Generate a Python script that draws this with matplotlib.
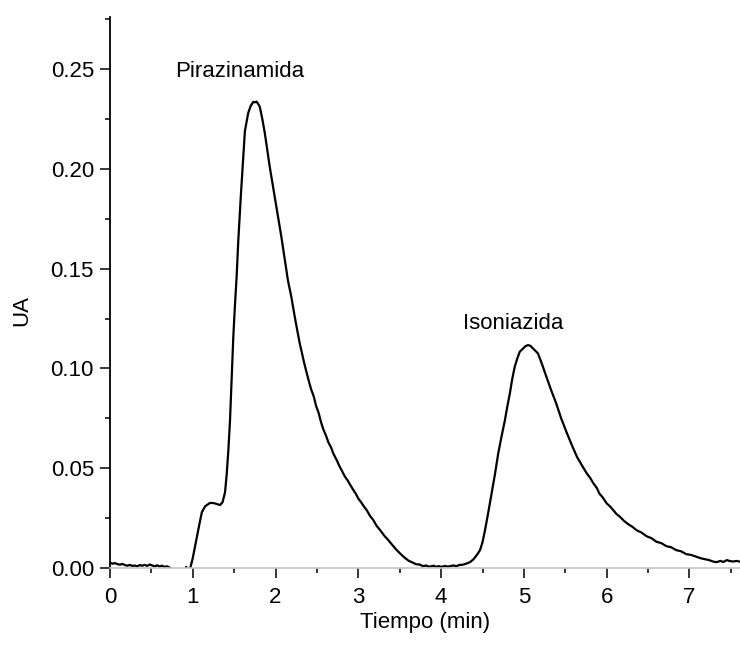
import matplotlib
matplotlib.use("Agg")
import matplotlib.pyplot as plt
from matplotlib.ticker import MultipleLocator

plt.rcParams['font.family'] = ['Liberation Sans', 'DejaVu Sans']

# Chromatogram trace (time in min, absorbance in UA)
tiempo = [
    0.00, 0.03, 0.06, 0.09, 0.12, 0.15, 0.18, 0.21, 0.24, 0.27, 0.30, 0.33,
    0.36, 0.39, 0.42, 0.45, 0.48, 0.51, 0.54, 0.57, 0.60, 0.63, 0.66, 0.69,
    0.72, 0.75, 0.78, 0.82, 0.86, 0.90, 0.92, 0.94, 0.97,
    1.00, 1.05, 1.08, 1.11, 1.15, 1.21, 1.26, 1.30, 1.33, 1.36, 1.39, 1.41,
    1.43, 1.45, 1.47, 1.49, 1.51, 1.53, 1.55, 1.58, 1.61, 1.63, 1.67, 1.70,
    1.73, 1.75, 1.77, 1.79, 1.81, 1.84, 1.87, 1.90, 1.93, 1.97, 2.01, 2.04,
    2.07, 2.11, 2.15, 2.19, 2.24, 2.29, 2.35, 2.40, 2.43, 2.46, 2.49, 2.52,
    2.55, 2.58, 2.61, 2.64, 2.67, 2.70, 2.74, 2.77, 2.80, 2.84, 2.87, 2.90,
    2.94, 2.97, 3.00, 3.03, 3.07, 3.10, 3.14, 3.18, 3.22, 3.26, 3.31, 3.36,
    3.41, 3.46, 3.51, 3.56, 3.61, 3.66, 3.70, 3.74, 3.78, 3.82, 3.85, 3.88,
    3.91, 3.94, 3.97, 4.00, 4.03, 4.05, 4.08, 4.10, 4.13, 4.15, 4.18, 4.20,
    4.23, 4.25, 4.28, 4.30, 4.33, 4.35, 4.39, 4.43, 4.47, 4.50, 4.53, 4.57,
    4.61, 4.65, 4.69, 4.73, 4.77, 4.80, 4.83, 4.86, 4.89, 4.92, 4.95, 4.99,
    5.02, 5.05, 5.08, 5.11, 5.14, 5.17, 5.22, 5.27, 5.33, 5.39, 5.45, 5.52,
    5.58, 5.64, 5.70, 5.76, 5.80, 5.84, 5.88, 5.91, 5.95, 6.00, 6.04, 6.08,
    6.12, 6.16, 6.21, 6.26, 6.31, 6.36, 6.42, 6.48, 6.54, 6.60, 6.66, 6.72,
    6.78, 6.84, 6.90, 6.96, 7.02, 7.08, 7.13, 7.18, 7.23, 7.29, 7.33, 7.37,
    7.41, 7.45, 7.49, 7.53, 7.57, 7.61,
]
absorbancia = [
    0.0028, 0.0022, 0.0025, 0.0020, 0.0017, 0.0021, 0.0015, 0.0012, 0.0016, 0.0011, 0.0013, 0.0009,
    0.0015, 0.0012, 0.0016, 0.0011, 0.0018, 0.0013, 0.0009, 0.0014, 0.0008, 0.0012, 0.0006, 0.0009,
    0.0003, -0.0008, -0.0015, -0.0020, -0.0018, -0.0010, 0.0006, -0.0004, 0.0000,
    0.0050, 0.0157, 0.0220, 0.0280, 0.0310, 0.0327, 0.0325, 0.0320, 0.0316, 0.0330, 0.0380, 0.0470,
    0.0590, 0.0740, 0.0950, 0.1160, 0.1320, 0.1460, 0.1640, 0.1860, 0.2060, 0.2190, 0.2280, 0.2315,
    0.2335, 0.2333, 0.2337, 0.2325, 0.2310, 0.2250, 0.2180, 0.2095, 0.2010, 0.1910, 0.1810, 0.1735,
    0.1660, 0.1550, 0.1440, 0.1360, 0.1240, 0.1130, 0.1020, 0.0940, 0.0895, 0.0862, 0.0812, 0.0778,
    0.0730, 0.0692, 0.0663, 0.0628, 0.0605, 0.0572, 0.0540, 0.0512, 0.0488, 0.0457, 0.0440, 0.0418,
    0.0391, 0.0372, 0.0348, 0.0332, 0.0307, 0.0291, 0.0262, 0.0241, 0.0212, 0.0192, 0.0164, 0.0141,
    0.0116, 0.0092, 0.0071, 0.0052, 0.0036, 0.0027, 0.0019, 0.0018, 0.0010, 0.0013, 0.0007, 0.0009,
    0.0012, 0.0006, 0.0010, 0.0006, 0.0009, 0.0011, 0.0007, 0.0009, 0.0012, 0.0013, 0.0010, 0.0012,
    0.0017, 0.0016, 0.0019, 0.0022, 0.0026, 0.0030, 0.0044, 0.0065, 0.0090, 0.0130, 0.0190, 0.0280,
    0.0374, 0.0470, 0.0575, 0.0660, 0.0740, 0.0810, 0.0875, 0.0950, 0.1010, 0.1050, 0.1084, 0.1100,
    0.1112, 0.1117, 0.1113, 0.1100, 0.1088, 0.1075, 0.1020, 0.0960, 0.0890, 0.0825, 0.0750, 0.0675,
    0.0615, 0.0558, 0.0515, 0.0474, 0.0452, 0.0424, 0.0402, 0.0374, 0.0355, 0.0324, 0.0309, 0.0290,
    0.0270, 0.0257, 0.0236, 0.0220, 0.0207, 0.0190, 0.0178, 0.0160, 0.0150, 0.0132, 0.0125, 0.0110,
    0.0104, 0.0090, 0.0084, 0.0070, 0.0066, 0.0057, 0.0050, 0.0045, 0.0041, 0.0032, 0.0030, 0.0036,
    0.0031, 0.0040, 0.0035, 0.0033, 0.0036, 0.0032,
]

x_ticks = [0, 1, 2, 3, 4, 5, 6, 7]
y_ticks = [0.00, 0.05, 0.10, 0.15, 0.20, 0.25]
y_ticklabels = ["0.00", "0.05", "0.10", "0.15", "0.20", "0.25"]

picos = ["Pirazinamida", "Isoniazida"]
picos_t = [1.57, 4.87]
picos_y = [0.2485, 0.1225]

fig = plt.figure(figsize=(7.4, 6.5), dpi=100)
ax = fig.add_axes([0.1486, 0.126, 0.8514, 0.8477])

ax.plot(tiempo, absorbancia, color='black', linewidth=1.6, clip_on=True)

ax.set_xlim(0, 7.61)
ax.set_ylim(0, 0.276)
ax.set_xticks(x_ticks)
ax.set_yticks(y_ticks)
ax.set_yticklabels(y_ticklabels)
ax.xaxis.set_minor_locator(MultipleLocator(0.5))
ax.yaxis.set_minor_locator(MultipleLocator(0.025))

for s in ['top', 'right']:
    ax.spines[s].set_visible(False)
ax.spines['left'].set_linewidth(1.3)
ax.spines['left'].set_color('black')
ax.spines['bottom'].set_linewidth(1.2)
ax.spines['bottom'].set_color('#c4c4c4')

ax.tick_params(which='major', direction='out', length=7.5, width=1.1, labelsize=16, pad=4, color='black')
ax.tick_params(axis='x', which='major', pad=6)
ax.tick_params(which='minor', direction='out', length=3.5, width=1.1, color='black')

ax.set_xlabel("Tiempo (min)", fontsize=16, labelpad=3)
fig.text(22 / 740, 1 - 310 / 650, "UA", rotation=90, ha='center', va='center', fontsize=16)

for nombre, tx, ty in zip(picos, picos_t, picos_y):
    ax.text(tx, ty, nombre, fontsize=16, ha='center', va='center')

fig.savefig("out.png", dpi=100)
